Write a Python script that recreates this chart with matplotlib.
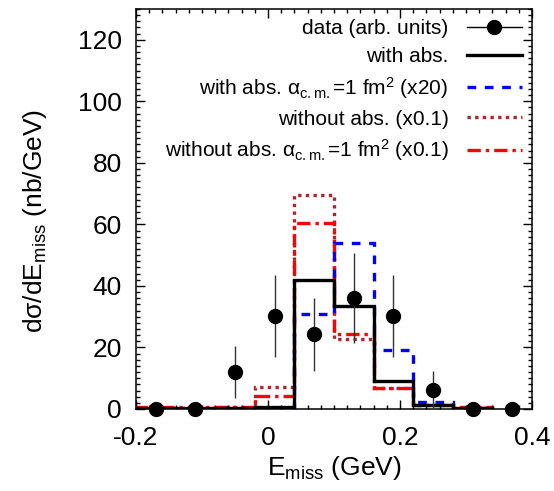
import numpy as np
import matplotlib
matplotlib.use("Agg")
import matplotlib.pyplot as plt
from matplotlib.lines import Line2D
from matplotlib.ticker import MultipleLocator

plt.rcParams['font.family'] = ['Liberation Sans', 'DejaVu Sans']
plt.rcParams['mathtext.fontset'] = 'custom'
plt.rcParams['mathtext.rm'] = 'Liberation Sans'
plt.rcParams['mathtext.it'] = 'Liberation Sans:italic'
plt.rcParams['mathtext.bf'] = 'Liberation Sans:bold'

# histogram bin edges (GeV)
edges = [-0.20, -0.14, -0.08, -0.02, 0.04, 0.10, 0.16, 0.22, 0.28, 0.34]
with_abs = [0.3, 0.3, 0.3, 0.5, 41.9, 33.6, 9.2, 1.3, 0.3]
with_abs_cm = [0.1, 0.1, 0.2, 0.3, 30.8, 54.1, 19.1, 2.2, 0.3]
without_abs = [0.4, 0.4, 0.5, 7.3, 69.5, 22.6, 6.9, 1.2, 0.4]
without_abs_cm = [0.5, 0.5, 0.5, 4.3, 60.3, 24.3, 6.7, 1.3, 0.5]

# data points
data_x = [-0.17, -0.11, -0.05, 0.01, 0.07, 0.13, 0.19, 0.25, 0.31, 0.37]
data_y = [0.0, 0.0, 12.1, 30.2, 24.3, 36.2, 30.2, 6.2, 0.0, 0.0]
data_err = [0.0, 0.0, 8.4, 13.3, 11.9, 14.6, 13.3, 6.0, 0.0, 0.0]

labels = [
    "data (arb. units)",
    "with abs.",
    r"with abs. α$_{\rm c.m.}$=1 fm$^{2}$ (x20)",
    "without abs. (x0.1)",
    r"without abs. α$_{\rm c.m.}$=1 fm$^{2}$ (x0.1)",
]

fig = plt.figure(figsize=(5.54, 4.91), dpi=100)
ax = fig.add_axes([136/554, 1-409/491, 396/554, 400/491])

brown = '#a52a2a'
ax.stairs(without_abs, edges, color=brown, lw=2.4, linestyle=(0, (1, 1.3)))
ax.stairs(without_abs_cm, edges, color='red', lw=2.4, linestyle=(0, (4, 1.5, 1, 1.5)))
ax.stairs(with_abs_cm, edges, color='blue', lw=2.4, linestyle=(0, (2.6, 2.6)))
ax.stairs(with_abs, edges, color='black', lw=2.4)

ax.errorbar(data_x, data_y, yerr=data_err, fmt='o', color='black', ms=10,
            ecolor='#333333', elinewidth=1.0, capsize=0, clip_on=False, zorder=5)

handles = [
    Line2D([], [], color='black', lw=1.0, marker='o', ms=10),
    Line2D([], [], color='black', lw=2.4),
    Line2D([], [], color='blue', lw=2.4, linestyle=(0, (2.6, 2.6))),
    Line2D([], [], color=brown, lw=2.4, linestyle=(0, (1, 1.3))),
    Line2D([], [], color='red', lw=2.4, linestyle=(0, (4, 1.5, 1, 1.5))),
]
ax.legend(handles, labels, loc='upper right', frameon=False, markerfirst=False,
          fontsize=15, numpoints=1, handlelength=2.6, handletextpad=0.9,
          labelspacing=0.42, borderaxespad=0.3, borderpad=0.2)

ax.set_xlim(-0.2, 0.4)
ax.set_ylim(0, 130)
ax.xaxis.set_major_locator(MultipleLocator(0.2))
ax.xaxis.set_minor_locator(MultipleLocator(0.02))
ax.yaxis.set_major_locator(MultipleLocator(20))
ax.yaxis.set_minor_locator(MultipleLocator(2))
ax.set_xticks([-0.2, 0, 0.2, 0.4])
ax.set_xticklabels(['-0.2', '0', '0.2', '0.4'])
ax.tick_params(which='both', direction='in', top=True, right=True, labelsize=19, width=1.0)
ax.tick_params(which='major', length=6.5)
ax.tick_params(which='minor', length=3.2)
ax.tick_params(axis='x', which='major', pad=12)
ax.tick_params(axis='y', which='major', pad=10)
for s in ax.spines.values():
    s.set_linewidth(1.1)

ax.set_xlabel(r"E$_{\rm miss}$ (GeV)", fontsize=19, labelpad=3)
ax.set_ylabel(r"dσ/dE$_{\rm miss}$ (nb/GeV)", fontsize=19)
ax.yaxis.set_label_coords(-0.22, 0.47)

fig.savefig("out.png", dpi=100)
